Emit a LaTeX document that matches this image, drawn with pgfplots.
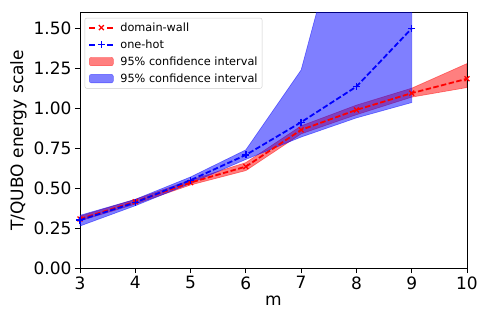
\documentclass[border=0pt]{standalone}
\usepackage{pgfplots}
\pgfplotsset{compat=1.18}
\usepackage{fontspec}
\setmainfont{DejaVu Sans}
\pgfplotsset{
  mylegline/.style={legend image code/.code={\path[draw=none,fill=none] (0pt,0pt) -- (31pt,0pt);
     \draw[##1,solid] (2pt,0pt) -- (8pt,0pt);
     \draw[##1,solid] (20pt,0pt) -- (26pt,0pt);
     \draw[##1] plot coordinates {(14pt,0pt)};}},
  mylegarea/.style={legend image code/.code={\path[draw=none,fill=none] (0pt,0pt) -- (31pt,0pt); \draw[##1] (2pt,-4pt) rectangle (26pt,4.5pt);}},
}
\begin{document}
\begin{tikzpicture}
\path (-80pt,-59pt) rectangle (411pt,268pt);
\begin{axis}[
  scale only axis, width=387pt, height=255.5pt, anchor=south west, at={(0pt,0pt)},
  xmin=3, xmax=10, ymin=0, ymax=1.6,
  xtick={3,4,5,6,7,8,9,10}, ytick={0,0.25,0.5,0.75,1,1.25,1.5},
  yticklabel style={/pgf/number format/.cd, fixed, fixed zerofill, precision=2},
  /pgf/number format/assume math mode=true,
  tick align=outside, tick pos=left, major tick length=5pt,
  tick style={black, line width=0.8pt},
  axis line style={line width=0.8pt},
  ticklabel style={font=\fontsize{17}{20}\selectfont},
  label style={font=\fontsize{17}{20}\selectfont},
  xlabel={m}, ylabel={T/QUBO energy scale},
  legend style={at={(0.012,0.979)}, anchor=north west, font=\fontsize{11.3}{13}\selectfont,
    draw=black!20, rounded corners=2pt, row sep=3pt, inner sep=2.5pt, cells={anchor=west}},
]
\addlegendimage{mylegline, red, line width=1.8pt, mark=x, mark size=3.5pt, mark options={solid, line width=1.3pt}}
\addlegendentry{domain-wall}
\addlegendimage{mylegline, blue, line width=1.8pt, mark=+, mark size=3.5pt, mark options={solid, line width=1.3pt}}
\addlegendentry{one-hot}
\addlegendimage{mylegarea, fill=red, fill opacity=0.5, draw=red, draw opacity=0.5}
\addlegendentry{95\% confidence interval}
\addlegendimage{mylegarea, fill=blue, fill opacity=0.5, draw=blue, draw opacity=0.5}
\addlegendentry{95\% confidence interval}

% red band
\addplot[forget plot, fill=red, fill opacity=0.5, draw=red, draw opacity=0.5, line width=0.6pt] coordinates {
(3,0.325) (4,0.43) (5,0.55) (6,0.66) (7,0.89) (8,1.02) (9,1.126) (10,1.28)
(10,1.13) (9,1.07) (8,0.96) (7,0.84) (6,0.61) (5,0.52) (4,0.40) (3,0.295)} -- cycle;
% blue band
\addplot[forget plot, fill=blue, fill opacity=0.5, draw=blue, draw opacity=0.5, line width=0.6pt] coordinates {
(3,0.33) (4,0.43) (5,0.57) (6,0.74) (7,1.24) (8,2.53) (9,3.5)
(9,1.036) (8,0.94) (7,0.82) (6,0.68) (5,0.53) (4,0.39) (3,0.263)} -- cycle;

% domain-wall
\addplot[forget plot, red, line width=1.8pt, dash pattern=on 5.5pt off 2.4pt, mark=x, mark size=3.5pt, mark options={solid, line width=1.3pt}] coordinates {
(3,0.307) (4,0.415) (5,0.535) (6,0.635) (7,0.865) (8,0.99) (9,1.095) (10,1.185)};
% one-hot
\addplot[forget plot, blue, line width=1.8pt, dash pattern=on 5.5pt off 2.4pt, mark=+, mark size=3.5pt, mark options={solid, line width=1.3pt}] coordinates {
(3,0.30) (4,0.41) (5,0.55) (6,0.708) (7,0.913) (8,1.136) (9,1.50)};
\end{axis}
\end{tikzpicture}
\end{document}
